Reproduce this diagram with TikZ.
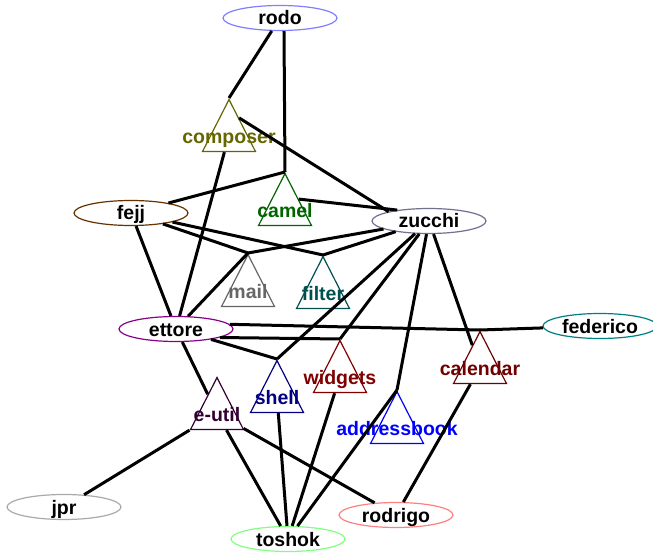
\documentclass[tikz,border=0pt]{standalone}
\usepackage{fontspec}
\setmainfont{Liberation Sans}
\usetikzlibrary{shapes.geometric}
\definecolor{rodoc}{HTML}{8080FF}
\definecolor{fejjc}{HTML}{663300}
\definecolor{zucchic}{HTML}{707090}
\definecolor{ettorec}{HTML}{8B008B}
\definecolor{federicoc}{HTML}{008080}
\definecolor{jprc}{HTML}{AAAAAA}
\definecolor{toshokc}{HTML}{80FF80}
\definecolor{rodrigoc}{HTML}{FF8080}
\definecolor{composerc}{HTML}{666600}
\definecolor{camelc}{HTML}{006400}
\definecolor{mailc}{HTML}{666666}
\definecolor{filterc}{HTML}{005050}
\definecolor{widgetsc}{HTML}{800000}
\definecolor{shellc}{HTML}{000080}
\definecolor{eutilc}{HTML}{330033}
\definecolor{calendarc}{HTML}{700000}
\definecolor{addressbookc}{HTML}{0000FF}
\tikzset{
  treenode/.style = {align=center, inner sep=0pt, text centered,
    font=\fontsize{19.5}{20}\selectfont\bfseries},
  dev_e/.style = {treenode, ellipse, draw=#1, line width=1.2pt,
    minimum width=114pt, minimum height=25pt, text height=14pt, text depth=0pt},% developpeur, ellipse
  proj_t/.style 2 args = {isosceles triangle, shape border rotate=90,
    isosceles triangle stretches, draw=#1, line width=1.2pt, inner sep=0pt,
    minimum width=53pt, minimum height=52pt, anchor=apex,
    label={[treenode, text=#1, anchor=base, yshift=9pt]south:#2}}% projet, triangle
}

\begin{document}
\begin{tikzpicture}[x=1pt,y=-1pt,line width=3pt]
  \useasboundingbox[fill=white] (0,0) rectangle (653,553);
  \node [dev_e=rodoc] (rodo) at (280,18) {rodo};
  \node [dev_e=fejjc] (fejj) at (131,213) {fejj};
  \node [dev_e=zucchic] (zucchi) at (429,221) {zucchi};
  \node [dev_e=ettorec] (ettore) at (176,329) {ettore};
  \node [dev_e=federicoc] (federico) at (600,326) {federico};
  \node [dev_e=jprc] (jpr) at (64,507) {jpr};
  \node [dev_e=toshokc] (toshok) at (288,539) {toshok};
  \node [dev_e=rodrigoc] (rodrigo) at (396,515) {rodrigo};

  \node [proj_t={composerc}{composer}] (composer) at (229,98) {};
  \node [proj_t={camelc}{camel}] (camel) at (285,172) {};
  \node [proj_t={mailc}{mail}] (mail) at (248,253) {};
  \node [proj_t={filterc}{filter}] (filter) at (323,255) {};
  \node [proj_t={widgetsc}{widgets}] (widgets) at (340,339) {};
  \node [proj_t={shellc}{shell}] (shell) at (277,359) {};
  \node [proj_t={eutilc}{e-util}] (eutil) at (217,376) {};
  \node [proj_t={calendarc}{calendar}] (calendar) at (480,330) {};
  \node [proj_t={addressbookc}{addressbook}] (addressbook) at (397,390) {};

  \foreach \from/\to in {rodo/composer.apex, rodo.-73/camel.apex, composer.60/zucchi.167,
      composer/ettore, camel.apex/fejj, camel.right side/zucchi.161, fejj/ettore,
      fejj/mail.apex, fejj/filter.apex, zucchi/mail.apex, zucchi/filter.apex,
      zucchi/shell.apex, zucchi/widgets.apex, zucchi/addressbook.apex,
      zucchi/calendar, ettore/mail.apex, ettore/shell.apex,
      ettore.-11/widgets.apex, ettore.5/calendar.apex, ettore/eutil,
      calendar.apex/federico, calendar/rodrigo, eutil/jpr, eutil/toshok,
      eutil/rodrigo, shell/toshok, widgets/toshok, addressbook.apex/toshok}
    \draw (\from) -- (\to);
\end{tikzpicture}
\end{document}
